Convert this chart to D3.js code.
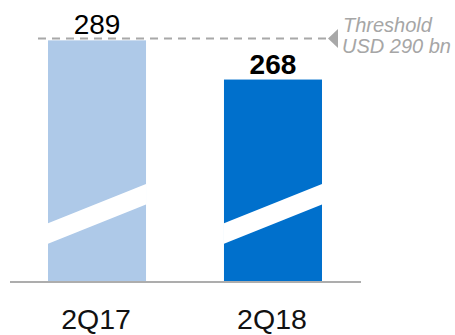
<!DOCTYPE html>
<html>
<head>
<meta charset="utf-8">
<script src="https://cdn.jsdelivr.net/npm/d3@7/dist/d3.min.js"></script>
<style>
  html, body { margin: 0; padding: 0; background: #fff; }
  svg { display: block; font-family: "Helvetica Neue", Helvetica, "Liberation Sans", Arial, sans-serif; }
</style>
</head>
<body>
<script>
// Quarterly values (USD bn)
const categories = ["2Q17", "2Q18"];
const values = [289, 268];
const barColors = ["#aec9e8", "#0070cc"];
const labelWeights = ["normal", "bold"];
const threshold = 290;
const thresholdLines = ["Threshold", "USD 290 bn"];
// Axis break drawn across both bars (value at left edge, value at right edge)
const breakLeft = [180, 191];
const breakRight = [201, 212];

const W = 455, H = 335;
const svg = d3.select("body").append("svg").attr("width", W).attr("height", H);

const x = d3.scaleBand().domain(categories).range([10, 360])
  .paddingInner(0.443).paddingOuter(0.216);
// Truncated value axis: baseline sits at 159.5
const y = d3.scaleLinear().domain([159.5, 290]).range([282, 38.5]);

const data = categories.map((c, i) => ({ c, v: values[i], color: barColors[i], w: labelWeights[i] }));

// Bars
svg.selectAll("rect.bar").data(data).enter().append("rect")
  .attr("class", "bar")
  .attr("x", d => x(d.c))
  .attr("width", x.bandwidth())
  .attr("y", d => y(d.v))
  .attr("height", d => y(159.5) - y(d.v))
  .attr("fill", d => d.color);

// Slanted break band
svg.selectAll("polygon.break").data(data).enter().append("polygon")
  .attr("class", "break")
  .attr("fill", "#fff")
  .attr("points", d => {
    const x0 = x(d.c), x1 = x(d.c) + x.bandwidth();
    return [[x0, y(breakLeft[0])], [x0, y(breakLeft[1])], [x1, y(breakRight[1])], [x1, y(breakRight[0])]]
      .map(p => p.join(",")).join(" ");
  });

// Baseline
svg.append("line")
  .attr("x1", 10).attr("x2", 361)
  .attr("y1", y(159.5)).attr("y2", y(159.5))
  .attr("stroke", "#adadad").attr("stroke-width", 2);

// Threshold dashed line
svg.append("line")
  .attr("x1", 38).attr("x2", 329)
  .attr("y1", y(threshold)).attr("y2", y(threshold))
  .attr("stroke", "#a8a8a8").attr("stroke-width", 2)
  .attr("stroke-dasharray", "8,6");

// Threshold marker
const ty = y(threshold);
svg.append("path")
  .attr("d", `M328,${ty} L338,${ty - 9.5} L338,${ty + 9.5} Z`)
  .attr("fill", "#a8a8a8");

svg.append("text")
  .attr("x", 343).attr("y", 31.5)
  .attr("font-size", 20).attr("font-style", "italic")
  .attr("fill", "#a6a6a6")
  .text(thresholdLines[0]);
svg.append("text")
  .attr("x", 342).attr("y", 53)
  .attr("font-size", 20).attr("font-style", "italic")
  .attr("fill", "#a6a6a6")
  .text(thresholdLines[1]);

// Value labels
svg.selectAll("text.val").data(data).enter().append("text")
  .attr("class", "val")
  .attr("x", d => x(d.c) + x.bandwidth() / 2)
  .attr("y", d => y(d.v) - 6)
  .attr("text-anchor", "middle")
  .attr("font-size", 28)
  .attr("font-weight", d => d.w)
  .attr("fill", "#000")
  .text(d => d.v);

// Category labels
svg.selectAll("text.cat").data(data).enter().append("text")
  .attr("class", "cat")
  .attr("x", d => x(d.c) + x.bandwidth() / 2 - 1)
  .attr("y", 329)
  .attr("text-anchor", "middle")
  .attr("font-size", 28.5)
  .attr("fill", "#111")
  .text(d => d.c);
</script>
</body>
</html>
